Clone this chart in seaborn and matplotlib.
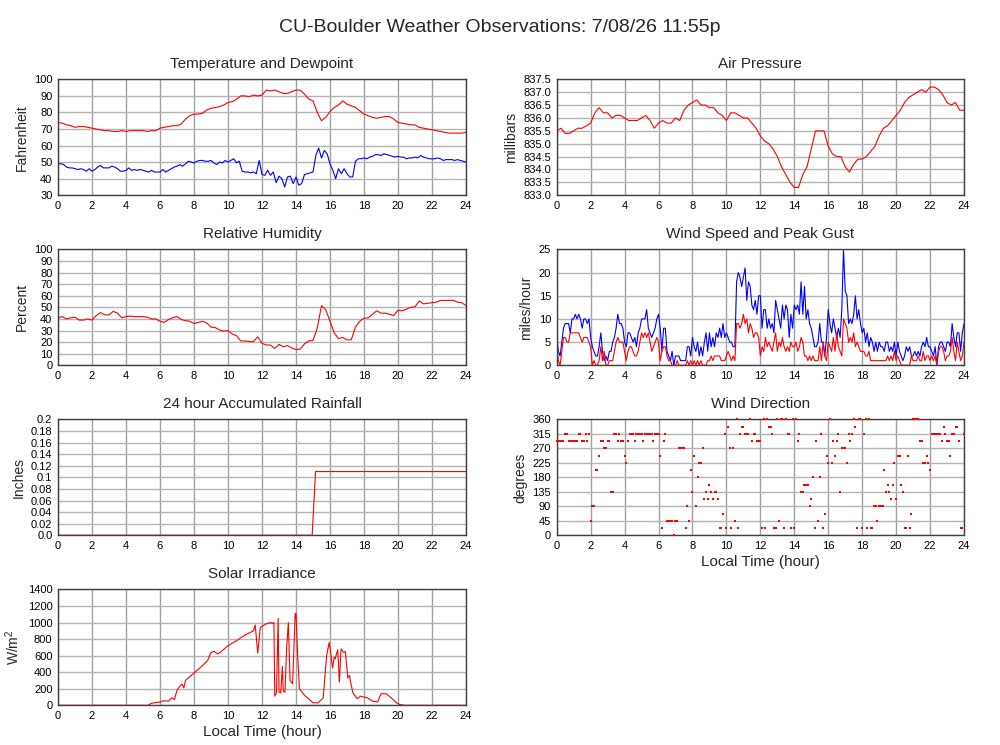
import numpy as np
import matplotlib
matplotlib.use('Agg')
import matplotlib.pyplot as plt
import seaborn as sns

# ---- data (hours since midnight) ----
temp_f = [74.0, 73.5, 72.5, 72,
          71, 71.5, 71.5, 71,
          70.5, 70, 69.5, 69,
          69, 68.5, 68.5, 69,
          68.5, 69, 69, 69,
          69, 68.5, 69, 69,
          70.5, 71, 71.5, 72,
          72, 73, 76, 78,
          79, 79, 79.5, 81.5,
          82.5, 83, 83.5, 84.5,
          86, 86.5, 88, 90,
          90, 89.5, 90.5, 90,
          90.5, 93.5, 93, 93.5,
          92.5, 91.5, 91.5, 92.5,
          93.5, 93.5, 91, 88,
          87, 80, 75, 77,
          80.5, 83, 84.5, 87,
          85, 84, 83, 81,
          79, 78, 77, 76.5,
          77, 77.5, 77.5, 76,
          74, 73.5, 73, 72.5,
          72.5, 71, 70.5, 70,
          69.5, 69, 68.5, 68,
          67.5, 67.5, 67.5, 67.5,
          68]

dewpoint_f = [49, 49, 48.5, 47, 46.5, 46.5,
              46, 45.5, 46, 45.5, 44.5, 46,
              44.5, 45.5, 47, 48, 46.5, 46.5,
              46.5, 47.5, 47, 46, 44.5, 44.5,
              45, 46.5, 45, 45.5, 45, 45.5,
              45, 44.5, 44, 45, 44, 44,
              44, 45.5, 44, 45, 46, 47,
              47.5, 48.5, 47.5, 49, 50.5, 50,
              49.5, 50.5, 51, 51, 50.5, 50.5,
              51, 49.5, 48.5, 50, 49.5, 51,
              50, 51, 52, 49.5, 50.5, 44.5,
              44, 44, 43.5, 44, 43, 51,
              42.5, 42, 45, 42, 44, 37.5,
              41.5, 40, 35, 41, 41.5, 37,
              41, 36, 37, 42.5, 43, 43.5,
              44, 54, 58.5, 52.5, 57, 55,
              49, 45, 40, 46, 43, 46,
              43, 41, 41, 50.5, 52, 52,
              52.5, 52, 53, 53.5, 54.5, 54.5,
              54, 55, 54.5, 54, 53.5, 53,
              53.5, 53, 53, 52, 52.5, 52.5,
              53, 52.5, 54, 53, 52.5, 52,
              52, 52, 52.5, 52, 51, 51.5,
              51.5, 51.5, 51, 51.5, 51, 50.5,
              50]

pressure_mb = [835.5, 835.6, 835.4, 835.4,
               835.5, 835.6, 835.6, 835.7,
               835.8, 836.2, 836.4, 836.2,
               836.2, 836.0, 836.1, 836.1,
               836.0, 835.9, 835.9, 835.9,
               836.0, 836.1, 835.9, 835.6,
               835.8, 835.9, 835.8, 835.8,
               836.0, 835.9, 836.3, 836.5,
               836.6, 836.7, 836.5, 836.5,
               836.4, 836.4, 836.2, 836.1,
               835.9, 836.2, 836.2, 836.1,
               836.0, 836.0, 835.8, 835.6,
               835.3, 835.1, 835.0, 834.8,
               834.5, 834.1, 833.8, 833.5,
               833.3, 833.3, 833.8, 834.1,
               834.8, 835.5, 835.5, 835.5,
               834.9, 834.6, 834.5, 834.5,
               834.1, 833.9, 834.2, 834.4,
               834.4, 834.5, 834.7, 834.9,
               835.3, 835.6, 835.7, 835.9,
               836.1, 836.3, 836.6, 836.8,
               836.9, 837.0, 837.1, 837.0,
               837.2, 837.2, 837.1, 836.9,
               836.6, 836.5, 836.6, 836.3,
               836.3]

humidity = [41, 42, 40, 41,
            41.5, 39, 39, 40,
            39, 43, 45.5, 43.5,
            43.5, 46.5, 45, 41,
            42, 42.5, 42, 42,
            42, 41.5, 40, 40,
            38, 37, 39.5, 41,
            42, 39.5, 38.5, 38,
            36, 37, 38, 36.5,
            33, 32.5, 30.5, 29.5,
            30, 27, 25.5, 21,
            21, 20.5, 20.5, 24.5,
            19, 17.5, 17.5, 14.5,
            18, 16, 17, 15,
            13.5, 14, 18.5, 21,
            21.5, 32, 51.5, 48,
            38, 28, 23, 24,
            22, 22, 33, 38,
            40.5, 41, 44, 47,
            45, 45, 44, 43,
            47.5, 47, 48.5, 50,
            50.5, 55.5, 53, 53.5,
            54, 54.5, 56, 56,
            56, 56, 54.5, 54,
            51.5]

wind_speed = [4, 1, 0, 3, 6, 6, 5, 5, 7, 7,
              7, 7, 7, 7, 6, 5, 6, 6, 6, 5,
              4, 0, 1, 0, 0, 1, 4, 1, 3, 0,
              0, 1, 1, 1, 3, 5, 6, 5, 5, 5,
              3, 1, 3, 4, 4, 3, 2, 2, 3, 5,
              7, 6, 7, 6, 7, 5, 3, 4, 5, 6,
              5, 1, 3, 4, 4, 2, 1, 1, 0, 0,
              0, 1, 0, 0, 0, 0, 0, 1, 0, 1,
              0, 1, 0, 1, 0, 1, 0, 0, 0, 1,
              1, 2, 1, 2, 2, 2, 2, 1, 1, 1,
              2, 3, 2, 1, 2, 1, 9, 9, 8, 9,
              11, 9, 10, 7, 9, 8, 6, 7, 7, 6,
              2, 4, 3, 6, 4, 5, 4, 3, 5, 7,
              3, 5, 4, 6, 4, 3, 4, 3, 5, 4,
              4, 5, 3, 4, 6, 5, 2, 2, 1, 2,
              1, 2, 1, 1, 1, 4, 1, 5, 2, 1,
              5, 4, 3, 6, 3, 7, 4, 3, 2, 10,
              9, 8, 5, 6, 5, 7, 4, 5, 4, 3,
              3, 3, 2, 2, 3, 1, 1, 1, 1, 1,
              1, 1, 1, 1, 1, 2, 1, 2, 1, 3,
              1, 2, 1, 0, 0, 0, 0, 0, 0, 2,
              1, 1, 1, 2, 1, 1, 3, 1, 2, 2,
              1, 2, 1, 2, 0, 3, 4, 4, 3, 1,
              2, 2, 3, 6, 3, 1, 5, 3, 1, 2,
              5]

wind_gust = [6, 3, 2, 5, 8, 9, 9, 9, 7, 10,
             10, 11, 10, 11, 10, 8, 10, 10, 9, 10,
             6, 4, 3, 2, 2, 4, 7, 3, 1, 2,
             1, 3, 3, 5, 6, 8, 11, 9, 9, 8,
             5, 4, 7, 7, 6, 5, 6, 4, 7, 8,
             10, 10, 10, 12, 8, 7, 6, 7, 8, 10,
             11, 8, 3, 8, 8, 3, 2, 1, 3, 0,
             2, 2, 2, 1, 1, 1, 1, 4, 4, 2,
             6, 4, 3, 5, 2, 4, 2, 5, 7, 3,
             7, 4, 6, 4, 7, 6, 8, 6, 9, 6,
             7, 6, 5, 5, 4, 4, 18, 20, 19, 17,
             19, 21, 14, 18, 17, 13, 12, 14, 11, 15,
             15, 8, 12, 12, 8, 10, 8, 9, 7, 14,
             12, 10, 8, 13, 10, 13, 12, 6, 11, 8,
             13, 12, 13, 11, 18, 11, 17, 10, 12, 9,
             8, 6, 4, 4, 5, 9, 5, 5, 2, 6,
             12, 9, 7, 10, 8, 6, 8, 6, 12, 25,
             16, 15, 9, 10, 9, 11, 15, 10, 12, 9,
             7, 8, 5, 7, 4, 6, 5, 3, 5, 3,
             5, 4, 4, 3, 5, 5, 3, 4, 3, 5,
             2, 5, 3, 2, 1, 2, 4, 3, 4, 2,
             2, 3, 2, 3, 2, 4, 5, 4, 6, 4,
             4, 3, 2, 4, 0, 4, 5, 5, 4, 3,
             5, 5, 4, 9, 6, 4, 7, 7, 3, 7,
             9]

rain_hours = [0, 14.95, 15.15, 24]
rain_inches = [0, 0, 0.11, 0.11]

wind_dir = [292.5, 292.5, 292.5, 292.5, 292.5, 315, 315, 292.5, 292.5, 292.5,
            292.5, 292.5, 292.5, 315, 315, 292.5, 292.5, 315, 292.5, 315,
            45, 90, 90, 202.5, 202.5, 247.5, 292.5, 292.5, 270, 270,
            292.5, 292.5, 135, 135, 315, 315, 292.5, 315, 292.5, 292.5,
            247.5, 225, 292.5, 315, 315, 315, 292.5, 315, 315, 315,
            315, 292.5, 315, 315, 315, 315, 315, 292.5, 315, 315,
            315, 247.5, 22.5, 292.5, 315, 45, 45, 45, 45, 0,
            45, 45, 270, 270, 270, 270, 22.5, 90, 45, 202.5,
            135, 247.5, 90, 180, 225, 225, 270, 112.5, 135, 112.5,
            157.5, 135, 112.5, 135, 135, 112.5, 22.5, 22.5, 67.5, 315,
            22.5, 337.5, 270, 22.5, 270, 45, 360, 22.5, 315, 337.5,
            337.5, 315, 315, 315, 360, 292.5, 315, 315, 292.5, 292.5,
            292.5, 22.5, 360, 22.5, 360, 337.5, 337.5, 315, 22.5, 22.5,
            360, 45, 360, 360, 22.5, 360, 315, 315, 22.5, 360,
            22.5, 360, 292.5, 315, 135, 135, 157.5, 157.5, 157.5, 90,
            112.5, 180, 22.5, 292.5, 45, 180, 315, 22.5, 67.5, 247.5,
            225, 360, 225, 292.5, 247.5, 292.5, 315, 135, 270, 270,
            270, 225, 315, 292.5, 315, 360, 337.5, 22.5, 360, 360,
            22.5, 315, 360, 22.5, 360, 22.5, 22.5, 90, 90, 45,
            90, 90, 90, 202.5, 135, 157.5, 135, 112.5, 157.5, 225,
            112.5, 247.5, 247.5, 157.5, 135, 22.5, 22.5, 247.5, 22.5, 67.5,
            360, 360, 360, 360, 292.5, 292.5, 225, 225, 247.5, 225,
            202.5, 315, 315, 315, 315, 315, 315, 292.5, 337.5, 315,
            292.5, 292.5, 247.5, 315, 315, 337.5, 337.5, 292.5, 22.5, 22.5,
            315]

solar_hours = [0, 5.3, 5.5, 6.0, 6.2, 6.5, 6.7, 6.85, 7.0, 7.2,
               7.3, 7.4, 7.5, 8.0, 8.5, 8.8, 9.0, 9.2, 9.4, 9.6,
               10.0, 10.5, 11.0, 11.5, 11.6, 11.75, 11.9, 12.2, 12.5, 12.6,
               12.7, 12.75, 12.85, 12.95, 13.0, 13.1, 13.2, 13.25, 13.35, 13.45,
               13.55, 13.65, 13.8, 13.95, 14.0, 14.1, 14.2, 14.5, 14.8, 15.0,
               15.3, 15.6, 15.8, 15.95, 16.05, 16.15, 16.25, 16.3, 16.45, 16.5,
               16.55, 16.65, 16.8, 16.9, 17.05, 17.15, 17.2, 17.35, 17.6, 17.8,
               18.0, 18.2, 18.5, 18.8, 19.0, 19.3, 19.6, 19.9, 20.1, 20.4,
               24]
solar_wm2 = [0, 0, 25, 40, 55, 50, 90, 70, 180, 240,
             255, 210, 300, 390, 480, 540, 640, 650, 620, 650,
             720, 780, 850, 900, 970, 630, 940, 980, 1000, 990,
             1000, 110, 150, 1050, 160, 150, 470, 170, 160, 700,
             1000, 300, 260, 1100, 1110, 600, 200, 120, 70, 30,
             30, 90, 600, 760, 620, 450, 580, 560, 670, 510,
             280, 680, 640, 650, 330, 360, 290, 150, 80, 110,
             100, 90, 50, 40, 140, 140, 90, 30, 10, 0,
             0]

# sample times of the regular series
quarter_hours = np.arange(len(temp_f)) * 0.25
ten_min_hours = np.arange(len(dewpoint_f)) / 6.0
tenth_hours = np.arange(len(wind_speed)) * 0.1

sns.set_theme(style='white')
plt.rcParams['font.family'] = ['Liberation Sans', 'DejaVu Sans']
plt.rcParams['mathtext.fontset'] = 'custom'
plt.rcParams['mathtext.rm'] = 'Liberation Sans'

RED = '#ff0000'
BLUE = '#0000ff'


def style_axes(ax, title, ylabel, yticks, ylabels=None):
    ax.set_xlim(0, 24)
    ax.set_xticks(range(0, 25, 2))
    ax.set_ylim(yticks[0], yticks[-1])
    ax.set_yticks(yticks)
    if ylabels is not None:
        ax.set_yticklabels(ylabels)
    ax.grid(True, axis='x', color='#a0a0a0', linewidth=1)
    ax.grid(True, axis='y', color='#b4b4b4', linewidth=1)
    ax.set_axisbelow(True)
    for s in ax.spines.values():
        s.set_color('#404040')
        s.set_linewidth(1)
    ax.tick_params(length=0, pad=4, labelsize=8, colors='black')
    ax.set_title(title, fontsize=11, pad=8)
    ax.set_ylabel(ylabel, fontsize=10)
    ax.set_xlabel('')


fig = plt.figure(figsize=(10, 7.45), dpi=100)
fig.suptitle('CU-Boulder Weather Observations: 7/08/26 11:55p', fontsize=14, y=0.975)

left_x, right_x = 0.058, 0.5567
w_left, w_right = 0.408, 0.4073
rows = [0.738, 0.5097, 0.2815, 0.0533]
h = 0.1555

# Temperature and dewpoint
ax = fig.add_axes([left_x, rows[0], w_left, h])
sns.lineplot(x=quarter_hours, y=temp_f, color=RED, linewidth=0.8, ax=ax)
sns.lineplot(x=ten_min_hours, y=dewpoint_f, color=BLUE, linewidth=0.8, ax=ax)
style_axes(ax, 'Temperature and Dewpoint', 'Fahrenheit', list(range(30, 101, 10)))

# Air pressure
ax = fig.add_axes([right_x, rows[0], w_right, h])
sns.lineplot(x=quarter_hours, y=pressure_mb, color=RED, linewidth=0.8, ax=ax)
p_ticks = list(np.arange(833.0, 837.51, 0.5))
style_axes(ax, 'Air Pressure', 'millibars', p_ticks, [f'{v:.1f}' for v in p_ticks])

# Relative humidity
ax = fig.add_axes([left_x, rows[1], w_left, h])
sns.lineplot(x=quarter_hours, y=humidity, color=RED, linewidth=0.8, ax=ax)
style_axes(ax, 'Relative Humidity', 'Percent', list(range(0, 101, 10)))

# Wind speed and gust
ax = fig.add_axes([right_x, rows[1], w_right, h])
sns.lineplot(x=tenth_hours, y=wind_gust, color=BLUE, linewidth=0.8, ax=ax)
sns.lineplot(x=tenth_hours, y=wind_speed, color=RED, linewidth=0.8, ax=ax)
style_axes(ax, 'Wind Speed and Peak Gust', 'miles/hour', list(range(0, 26, 5)))

# Rainfall
ax = fig.add_axes([left_x, rows[2], w_left, h])
sns.lineplot(x=rain_hours, y=rain_inches, color=RED, linewidth=0.8, ax=ax)
r_ticks = [round(v, 2) for v in np.arange(0, 0.201, 0.02)]
r_labels = ['0.0'] + [f'{v:g}' for v in r_ticks[1:]]
style_axes(ax, '24 hour Accumulated Rainfall', 'Inches', r_ticks, r_labels)

# Wind direction
ax = fig.add_axes([right_x, rows[2], w_right, h])
sns.scatterplot(x=tenth_hours, y=wind_dir, color=RED, marker='s', s=4.5,
                linewidth=0, ax=ax, clip_on=False, zorder=3)
style_axes(ax, 'Wind Direction', 'degrees', list(range(0, 361, 45)))
ax.set_xlabel('Local Time (hour)', fontsize=11, labelpad=3)

# Solar irradiance
ax = fig.add_axes([left_x, rows[3], w_left, h])
sns.lineplot(x=solar_hours, y=solar_wm2, color=RED, linewidth=0.8, ax=ax)
style_axes(ax, 'Solar Irradiance', r'W/m$^{2}$', list(range(0, 1401, 200)))
ax.set_xlabel('Local Time (hour)', fontsize=11, labelpad=3)

fig.savefig('out.png', dpi=100, facecolor='white')
